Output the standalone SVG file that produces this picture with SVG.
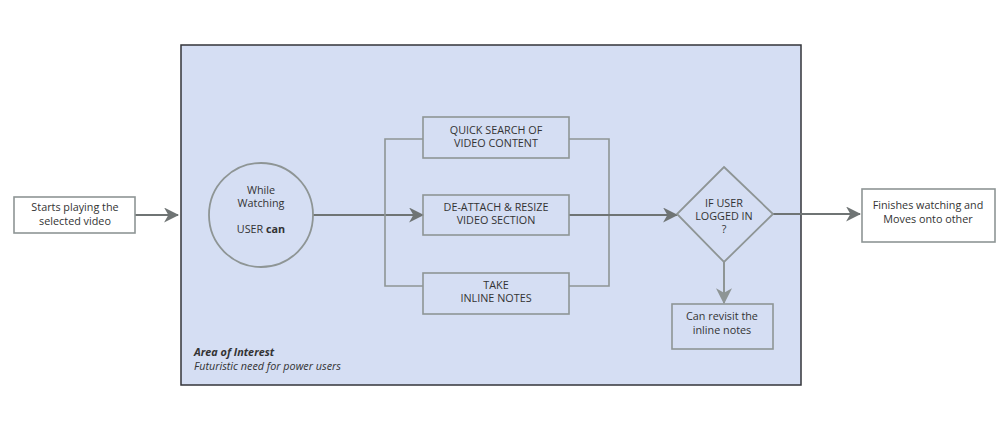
<svg xmlns="http://www.w3.org/2000/svg" width="1000" height="429" viewBox="0 0 1000 429">
<style>
text{font-family:"Open Sans",Lato,"Liberation Sans",sans-serif;font-size:10.8px;fill:#333333;text-anchor:middle}
.box{fill:#ffffff;stroke:#8e9595;stroke-width:1.6}
.inbox{fill:none;stroke:#8e9595;stroke-width:1.6}
.ln{fill:none;stroke:#6f7474;stroke-width:2}
.br{fill:none;stroke:#8e9595;stroke-width:1.6}
</style>
<defs>
<marker id="ahl" viewBox="0 0 14 14" markerWidth="15" markerHeight="15" refX="13" refY="7" orient="auto" markerUnits="userSpaceOnUse"><path d="M0,0 L14,7 L0,14 L4,7 Z" fill="#6f7474"/></marker>
<marker id="ahg" viewBox="0 0 14 14" markerWidth="16" markerHeight="16" refX="13" refY="7" orient="auto" markerUnits="userSpaceOnUse"><path d="M0,0 L14,7 L0,14 L4,7 Z" fill="#8e9595"/></marker>
</defs>
<rect width="1000" height="429" fill="#ffffff"/>
<g id="area">
<rect x="181" y="45" width="620" height="340" fill="#d5def3" stroke="#33353a" stroke-width="1.5"/>
<text x="194" y="356" style="text-anchor:start;font-weight:bold;font-style:italic">Area of Interest</text>
<text x="194" y="370" style="text-anchor:start;font-style:italic">Futuristic need for power users</text>
</g>
<g id="connectors">
<line class="ln" x1="135" y1="215" x2="178" y2="215" marker-end="url(#ahl)"/>
<line class="ln" x1="313" y1="215" x2="423" y2="215" marker-end="url(#ahl)"/>
<polyline class="br" points="423,139 385,139 385,286 423,286"/>
<polyline class="br" points="569,139 609,139 609,286 569,286"/>
<line class="ln" x1="569" y1="215" x2="677" y2="215" marker-end="url(#ahl)"/>
<line x1="724" y1="262" x2="724" y2="303" stroke="#8e9595" stroke-width="2" marker-end="url(#ahg)"/>
<line class="ln" x1="773" y1="214" x2="860" y2="214" marker-end="url(#ahl)"/>
</g>
<g id="start">
<rect class="box" x="14" y="197" width="121" height="36"/>
<text x="75" y="211">Starts playing the</text>
<text x="75" y="225">selected video</text>
</g>
<g id="user">
<circle cx="261" cy="215" r="52" fill="none" stroke="#8e9595" stroke-width="1.8"/>
<text x="261" y="194">While</text>
<text x="261" y="207">Watching</text>
<text x="261" y="233">USER <tspan font-weight="bold">can</tspan></text>
</g>
<g id="search">
<rect class="inbox" x="423" y="117" width="146" height="41"/>
<text x="496" y="134">QUICK SEARCH OF</text>
<text x="496" y="147">VIDEO CONTENT</text>
</g>
<g id="resize">
<rect class="inbox" x="423" y="195" width="146" height="40"/>
<text x="496" y="211">DE-ATTACH &amp; RESIZE</text>
<text x="496" y="224">VIDEO SECTION</text>
</g>
<g id="notes">
<rect class="inbox" x="423" y="273" width="146" height="41"/>
<text x="496" y="289">TAKE</text>
<text x="496" y="302">INLINE NOTES</text>
</g>
<g id="decision">
<polygon points="724,167 773,214 724,262 677,214" fill="none" stroke="#8e9595" stroke-width="1.8"/>
<text x="724" y="207">IF USER</text>
<text x="724" y="220">LOGGED IN</text>
<text x="724" y="233">?</text>
</g>
<g id="revisit">
<rect class="inbox" x="672" y="304" width="101" height="45"/>
<text x="722" y="320">Can revisit the</text>
<text x="722" y="334">inline notes</text>
</g>
<g id="finish">
<rect class="box" x="862" y="189" width="133" height="53"/>
<text x="928" y="209">Finishes watching and</text>
<text x="928" y="223">Moves onto other</text>
</g>
</svg>
